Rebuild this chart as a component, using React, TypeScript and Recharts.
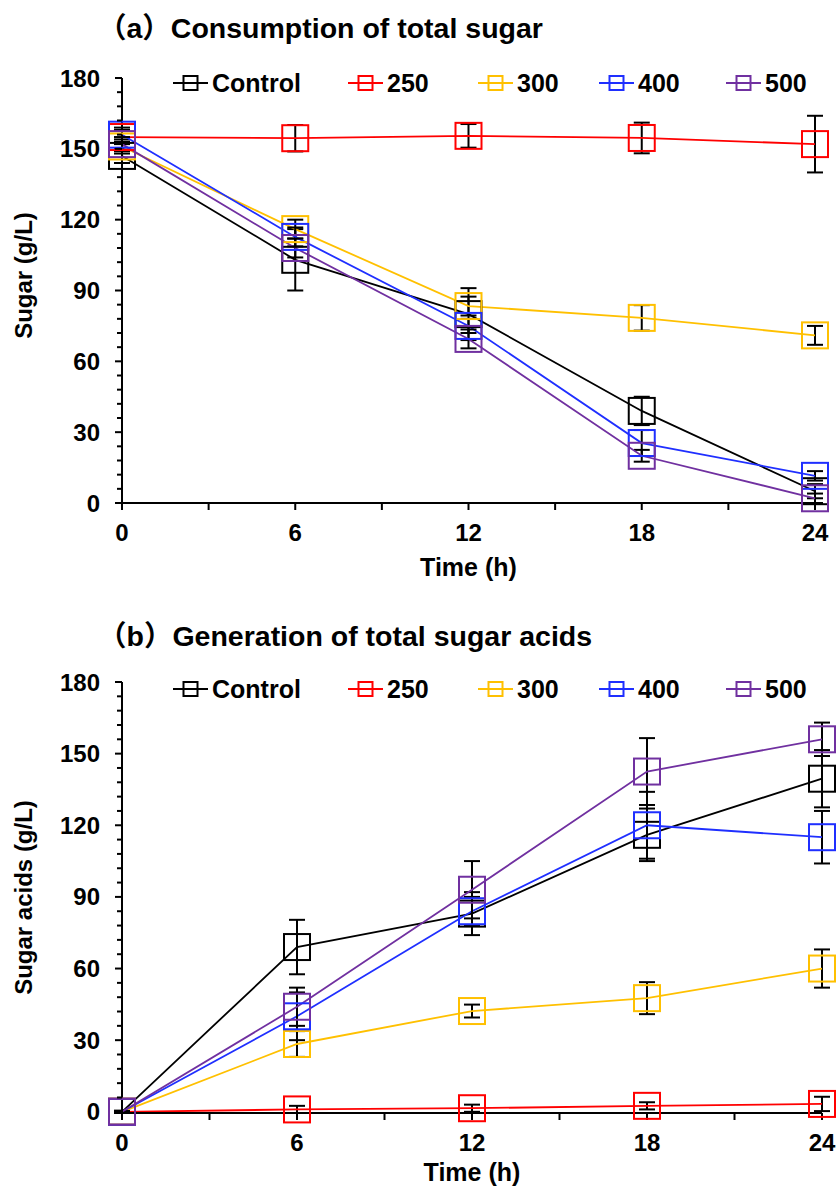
import React from 'react';
import { LineChart, Line, XAxis, YAxis, ErrorBar, Legend, Label } from 'recharts';

const TIME = [0, 6, 12, 18, 24];
const SERIES_NAMES = ['Control', '250', '300', '400', '500'];
const COLORS = ['#000000', '#FF0000', '#FFC000', '#1F2FFF', '#7030A0'];

const X_TICKS = [0, 3, 6, 9, 12, 15, 18, 21, 24];
const Y_TICKS = [0, 6, 12, 18, 24, 30, 36, 42, 48, 54, 60, 66, 72, 78, 84, 90, 96, 102, 108, 114, 120, 126, 132, 138, 144, 150, 156, 162, 168, 174, 180];

// (a) Consumption of total sugar
const SUGAR_CONTROL = [147, 103, 80, 39, 5];
const SUGAR_250 = [155, 154.5, 155.5, 154.6, 152];
const SUGAR_300 = [151, 116, 83.4, 78.4, 71];
const SUGAR_400 = [156, 112.7, 75, 25.4, 11.5];
const SUGAR_500 = [152, 108, 69.5, 20, 2];
const SUGAR_ERR_CONTROL = [3, 13, 11, 6, 3];
const SUGAR_ERR_250 = [3, 5.6, 5, 6.5, 12];
const SUGAR_ERR_300 = [3, 4, 4, 5.4, 4];
const SUGAR_ERR_400 = [3, 4, 3, 5.5, 2];
const SUGAR_ERR_500 = [3, 4, 4, 2.5, 2];

// (b) Generation of total sugar acids
const ACID_CONTROL = [0, 69, 83, 116, 139.5];
const ACID_250 = [0, 1, 1.5, 2.5, 3.3];
const ACID_300 = [0, 28.4, 42.2, 47.6, 60];
const ACID_400 = [0, 40, 84, 120, 115];
const ACID_500 = [0, 44, 93, 142.5, 156];
const ACID_ERR_CONTROL = [0.5, 11.4, 9, 11, 12];
const ACID_ERR_250 = [0.3, 1.5, 1.5, 1.5, 3];
const ACID_ERR_300 = [0.3, 5.4, 2.7, 6.7, 8];
const ACID_ERR_400 = [0.3, 10, 6, 14, 11];
const ACID_ERR_500 = [0.3, 8, 12, 14, 7];

const FONT = '"Liberation Sans", Arial, "Noto Sans CJK SC", sans-serif';
const LEGEND_X = [173, 348, 478, 599, 726];

const buildRows = (vals: number[][], errs: number[][]) =>
  TIME.map((t, i) => {
    const row: any = { t };
    vals.forEach((v, k) => {
      row['s' + k] = v[i];
      row['e' + k] = errs[k][i];
    });
    return row;
  });

const sugarRows = buildRows(
  [SUGAR_CONTROL, SUGAR_250, SUGAR_300, SUGAR_400, SUGAR_500],
  [SUGAR_ERR_CONTROL, SUGAR_ERR_250, SUGAR_ERR_300, SUGAR_ERR_400, SUGAR_ERR_500]
);
const acidRows = buildRows(
  [ACID_CONTROL, ACID_250, ACID_300, ACID_400, ACID_500],
  [ACID_ERR_CONTROL, ACID_ERR_250, ACID_ERR_300, ACID_ERR_400, ACID_ERR_500]
);

const squareDot = (color: string) => (props: any) => {
  const { cx, cy, index } = props;
  if (cx == null || cy == null) return <g key={'n' + index} />;
  return (
    <rect key={'d' + index} x={cx - 13} y={cy - 13} width={26} height={26} fill="none" stroke={color} strokeWidth={2} />
  );
};

const YTick = (props: any) => {
  const { x, y, payload } = props;
  const ax = x + 22;
  const major = payload.value % 30 === 0;
  return (
    <g>
      <line x1={ax} x2={ax - (major ? 7 : 5)} y1={y} y2={y} stroke="#000" strokeWidth={2} />
      {major && (
        <text x={x} y={y} dy={8.5} textAnchor="end" fill="#000" style={{ fontFamily: FONT, fontSize: 24, fontWeight: 'bold' }}>
          {payload.value}
        </text>
      )}
    </g>
  );
};

const yLabel = (text: string, shift: number) => (props: any) => {
  const vb = props.viewBox || { y: 0, height: 0 };
  const cy = vb.y + vb.height / 2 + shift;
  const x = 32;
  return (
    <text x={x} y={cy} transform={`rotate(-90 ${x} ${cy})`} textAnchor="middle" fill="#000" style={{ fontFamily: FONT, fontSize: 24, fontWeight: 'bold' }}>
      {text}
    </text>
  );
};

const xLabel = (drop: number) => (props: any) => {
  const vb = props.viewBox || { x: 0, y: 0, width: 0 };
  const cx = vb.x + vb.width / 2;
  const y = vb.y + drop;
  return (
    <text x={cx} y={y} textAnchor="middle" fill="#000" style={{ fontFamily: FONT, fontSize: 25, fontWeight: 'bold' }}>
      Time (h)
    </text>
  );
};

const renderLegend = () => (
  <div style={{ position: 'relative', width: 837, height: 30 }}>
    {SERIES_NAMES.map((n, i) => (
      <div key={n} style={{ position: 'absolute', left: LEGEND_X[i], top: 0, height: 30, display: 'flex', alignItems: 'center' }}>
        <svg width={35} height={30} style={{ display: 'block' }}>
          <line x1={0} x2={35} y1={15} y2={15} stroke={COLORS[i]} strokeWidth={2} />
          <rect x={10.5} y={8} width={14} height={14} fill="none" stroke={COLORS[i]} strokeWidth={2} />
        </svg>
        <span style={{ marginLeft: 4, fontFamily: FONT, fontSize: 25, fontWeight: 'bold', color: '#000', lineHeight: '30px' }}>{n}</span>
      </div>
    ))}
  </div>
);

const Panel = ({ rows, width, height, margin, yTitle, yShift, legendTop, xDrop }: any) => (
  <LineChart width={width} height={height} data={rows} margin={margin}>
    <XAxis
      type="number"
      dataKey="t"
      domain={[0, 24]}
      ticks={X_TICKS}
      interval={0}
      tickSize={7}
      tickMargin={14}
      height={75}
      tickFormatter={(v: number) => (v % 6 === 0 ? String(v) : '')}
      axisLine={{ stroke: '#000', strokeWidth: 2 }}
      tickLine={{ stroke: '#000', strokeWidth: 2 }}
      tick={{ fill: '#000', fontSize: 24, fontWeight: 'bold', fontFamily: FONT }}
    >
      <Label content={xLabel(xDrop)} />
    </XAxis>
    <YAxis
      type="number"
      domain={[0, 180]}
      ticks={Y_TICKS}
      interval={0}
      width={122}
      tickSize={7}
      tickMargin={15}
      tickLine={false}
      axisLine={{ stroke: '#000', strokeWidth: 2 }}
      tick={<YTick />}
    >
      <Label content={yLabel(yTitle, yShift)} />
    </YAxis>
    <Legend
      verticalAlign="middle"
      layout="horizontal"
      content={renderLegend}
      wrapperStyle={{ position: 'absolute', left: 0, top: legendTop, width: 837, height: 30 }}
    />
    {SERIES_NAMES.map((n, k) => (
      <Line
        key={n}
        name={n}
        type="linear"
        dataKey={'s' + k}
        stroke={COLORS[k]}
        strokeWidth={1.8}
        dot={squareDot(COLORS[k])}
        activeDot={false}
        isAnimationActive={false}
      >
        <ErrorBar dataKey={'e' + k} width={8} stroke="#000" strokeWidth={2} direction="y" isAnimationActive={false} />
      </Line>
    ))}
  </LineChart>
);

const titleStyle: React.CSSProperties = {
  position: 'absolute',
  left: 98,
  fontFamily: FONT,
  fontSize: 28.5,
  fontWeight: 'bold',
  color: '#000',
  whiteSpace: 'nowrap',
  lineHeight: '30px',
};

export default function App() {
  return (
    <div style={{ position: 'absolute', left: 0, top: 0, width: 837, height: 1191, background: '#fff', overflow: 'hidden' }}>
      <div style={{ position: 'absolute', left: 0, top: 0 }}>
        <Panel rows={sugarRows} width={837} height={600} margin={{ top: 78, right: 22, left: 0, bottom: 22 }} yTitle="Sugar (g/L)" yShift={-15} legendTop={68} xDrop={73} />
      </div>
      <div style={{ position: 'absolute', left: 0, top: 600 }}>
        <Panel rows={acidRows} width={837} height={591} margin={{ top: 82, right: 15, left: 0, bottom: 3 }} yTitle="Sugar acids (g/L)" yShift={0} legendTop={74} xDrop={68} />
      </div>
      <div style={{ ...titleStyle, top: 13 }}>（a）Consumption of total sugar</div>
      <div style={{ ...titleStyle, top: 621 }}>（b）Generation of total sugar acids</div>
    </div>
  );
}
